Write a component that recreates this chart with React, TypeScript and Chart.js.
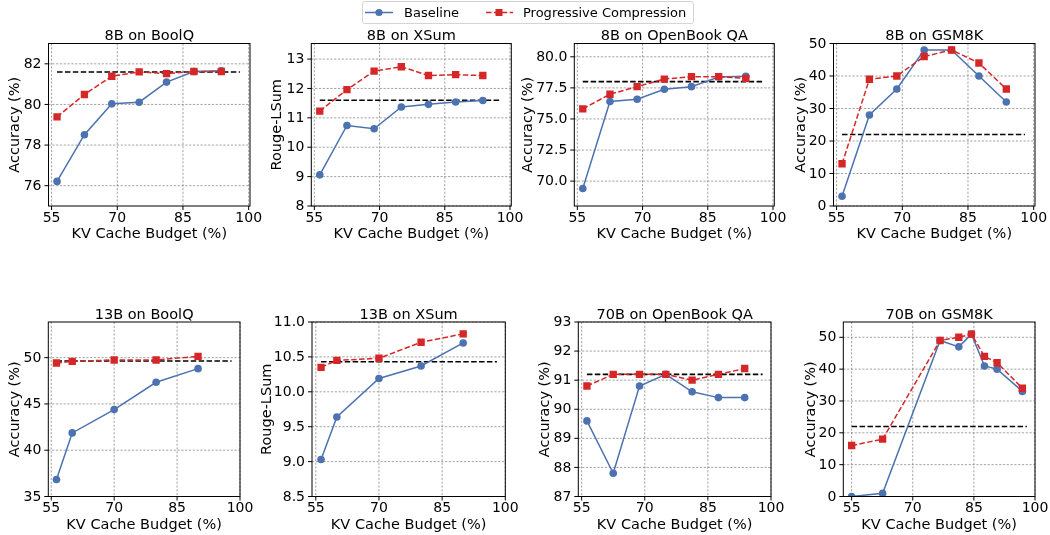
import React, { useEffect, useRef } from "react";
import { Chart, registerables } from "chart.js";

Chart.register(...registerables);

// ---------------- data ----------------
const budgets8B = [56.25, 62.5, 68.75, 75, 81.25, 87.5, 93.75];
const budgets13B = [56.25, 60, 70, 80, 90];
const budgets70BObqa = [56.25, 62.5, 68.75, 75, 81.25, 87.5, 93.75];
const budgets70BGsm = [55, 62.6, 76.7, 81.3, 84.4, 87.6, 90.7, 96.9];

const xTickValues = [55, 70, 85, 100];
const fullCacheLineEnd = 98;

const boolq8Baseline = [76.21, 78.51, 80.03, 80.11, 81.1, 81.62, 81.66];
const boolq8Progressive = [79.39, 80.49, 81.39, 81.6, 81.52, 81.62, 81.62];
const boolq8Full = 81.6;
const boolq8YTicks = [76, 78, 80, 82];

const xsum8Baseline = [9.06, 10.74, 10.63, 11.37, 11.46, 11.54, 11.59];
const xsum8Progressive = [11.23, 11.96, 12.59, 12.74, 12.44, 12.47, 12.44];
const xsum8Full = 11.6;
const xsum8YTicks = [8, 9, 10, 11, 12, 13];

const obqa8Baseline = [69.41, 76.4, 76.59, 77.39, 77.6, 78.37, 78.43];
const obqa8Progressive = [75.81, 76.99, 77.6, 78.21, 78.4, 78.4, 78.27];
const obqa8Full = 78.0;
const obqa8YTicks = [70, 72.5, 75, 77.5, 80];

const gsm8Baseline = [3, 28, 36, 48, 48, 40, 32];
const gsm8Progressive = [13, 39, 40, 46, 48, 44, 36];
const gsm8Full = 22;
const gsm8YTicks = [0, 10, 20, 30, 40, 50];

const boolq13Baseline = [36.83, 41.87, 44.39, 47.34, 48.81];
const boolq13Progressive = [49.42, 49.6, 49.75, 49.75, 50.14];
const boolq13Full = 49.64;
const boolq13YTicks = [35, 40, 45, 50];

const xsum13Baseline = [9.03, 9.64, 10.19, 10.37, 10.7];
const xsum13Progressive = [10.35, 10.45, 10.48, 10.71, 10.83];
const xsum13Full = 10.43;
const xsum13YTicks = [8.5, 9.0, 9.5, 10.0, 10.5, 11.0];

const obqa70Baseline = [89.6, 87.8, 90.8, 91.2, 90.6, 90.4, 90.4];
const obqa70Progressive = [90.8, 91.2, 91.2, 91.2, 91.0, 91.2, 91.4];
const obqa70Full = 91.2;
const obqa70YTicks = [87, 88, 89, 90, 91, 92, 93];

const gsm70Baseline = [0, 1, 49, 47, 51, 41, 40, 33];
const gsm70Progressive = [16, 18, 49, 50, 51, 44, 42, 34];
const gsm70Full = 22;
const gsm70YTicks = [0, 10, 20, 30, 40, 50];

// ---------------- style / layout ----------------
const W = 1050;
const H = 535;
const BLUE = "#4c72b0";
const RED = "#d62728";
const FONT = '"DejaVu Sans", "Liberation Sans", sans-serif';
const TICK_FONT = 14;
const LABEL_FONT = 14.5;

type Panel = {
  title: string;
  yLabel: string;
  xs: number[];
  base: number[];
  prog: number[];
  full: number;
  yTicks: number[];
  yDecimals: number;
  yMin: number;
  yMax: number;
  xMin: number;
  xMax: number;
  box: { left: number; right: number; top: number; bottom: number };
  yLabelX: number;
};

const ROW1 = { top: 43.5, bottom: 206 };
const ROW2 = { top: 322, bottom: 496.5 };

const panels: Panel[] = [
  {
    title: "8B on BoolQ", yLabel: "Accuracy (%)", xs: budgets8B, base: boolq8Baseline, prog: boolq8Progressive,
    full: boolq8Full, yTicks: boolq8YTicks, yDecimals: 0, yMin: 75, yMax: 83, xMin: 54.3, xMax: 100.3,
    box: { left: 48.5, right: 250, ...ROW1 }, yLabelX: 15.3,
  },
  {
    title: "8B on XSum", yLabel: "Rouge-LSum", xs: budgets8B, base: xsum8Baseline, prog: xsum8Progressive,
    full: xsum8Full, yTicks: xsum8YTicks, yDecimals: 0, yMin: 8, yMax: 13.53, xMin: 54.3, xMax: 100.3,
    box: { left: 311.3, right: 511.3, ...ROW1 }, yLabelX: 277.5,
  },
  {
    title: "8B on OpenBook QA", yLabel: "Accuracy (%)", xs: budgets8B, base: obqa8Baseline, prog: obqa8Progressive,
    full: obqa8Full, yTicks: obqa8YTicks, yDecimals: 1, yMin: 68, yMax: 81.07, xMin: 54.3, xMax: 100.3,
    box: { left: 574.3, right: 774.3, ...ROW1 }, yLabelX: 528,
  },
  {
    title: "8B on GSM8K", yLabel: "Accuracy (%)", xs: budgets8B, base: gsm8Baseline, prog: gsm8Progressive,
    full: gsm8Full, yTicks: gsm8YTicks, yDecimals: 0, yMin: 0, yMax: 50, xMin: 54.3, xMax: 100.3,
    box: { left: 833.5, right: 1035, ...ROW1 }, yLabelX: 801,
  },
  {
    title: "13B on BoolQ", yLabel: "Accuracy (%)", xs: budgets13B, base: boolq13Baseline, prog: boolq13Progressive,
    full: boolq13Full, yTicks: boolq13YTicks, yDecimals: 0, yMin: 35, yMax: 53.85, xMin: 54.3, xMax: 100,
    box: { left: 48.3, right: 240, ...ROW2 }, yLabelX: 15.3,
  },
  {
    title: "13B on XSum", yLabel: "Rouge-LSum", xs: budgets13B, base: xsum13Baseline, prog: xsum13Progressive,
    full: xsum13Full, yTicks: xsum13YTicks, yDecimals: 1, yMin: 8.5, yMax: 11.0, xMin: 54.1, xMax: 100,
    box: { left: 312, right: 505.3, ...ROW2 }, yLabelX: 267.5,
  },
  {
    title: "70B on OpenBook QA", yLabel: "Accuracy (%)", xs: budgets70BObqa, base: obqa70Baseline, prog: obqa70Progressive,
    full: obqa70Full, yTicks: obqa70YTicks, yDecimals: 0, yMin: 87, yMax: 93, xMin: 54.2, xMax: 100,
    box: { left: 578.3, right: 771, ...ROW2 }, yLabelX: 545.7,
  },
  {
    title: "70B on GSM8K", yLabel: "Accuracy (%)", xs: budgets70BGsm, base: gsm70Baseline, prog: gsm70Progressive,
    full: gsm70Full, yTicks: gsm70YTicks, yDecimals: 0, yMin: 0, yMax: 54.8, xMin: 52.95, xMax: 100,
    box: { left: 843.3, right: 1035, ...ROW2 }, yLabelX: 811,
  },
];

function makeDecorPlugin(p: Panel) {
  return {
    id: "decor",
    beforeDatasetsDraw(chart: any) {
      const { ctx, chartArea, scales } = chart;
      const xs = scales.x;
      const ys = scales.y;
      ctx.save();
      ctx.strokeStyle = "rgba(100,100,100,0.75)";
      ctx.lineWidth = 0.8;
      ctx.setLineDash([2.2, 1.6]);
      for (const v of xTickValues) {
        const px = xs.getPixelForValue(v);
        if (px < chartArea.left - 0.5 || px > chartArea.right + 0.5) continue;
        ctx.beginPath();
        ctx.moveTo(px, chartArea.top);
        ctx.lineTo(px, chartArea.bottom);
        ctx.stroke();
      }
      for (const v of p.yTicks) {
        const py = ys.getPixelForValue(v);
        ctx.beginPath();
        ctx.moveTo(chartArea.left, py);
        ctx.lineTo(chartArea.right, py);
        ctx.stroke();
      }
      ctx.restore();
    },
    afterDatasetsDraw(chart: any) {
      const { ctx, chartArea, scales } = chart;
      const xs = scales.x;
      const ys = scales.y;
      const { left, right, top, bottom } = chartArea;
      ctx.save();
      ctx.setLineDash([]);
      // frame
      ctx.strokeStyle = "#000";
      ctx.lineWidth = 1;
      ctx.strokeRect(left, top, right - left, bottom - top);
      // tick marks and labels
      ctx.fillStyle = "#000";
      ctx.font = `${TICK_FONT}px ${FONT}`;
      ctx.textAlign = "center";
      ctx.textBaseline = "alphabetic";
      for (const v of xTickValues) {
        const px = xs.getPixelForValue(v);
        ctx.beginPath();
        ctx.moveTo(px, bottom);
        ctx.lineTo(px, bottom + 4);
        ctx.stroke();
        ctx.fillText(String(v), px, bottom + 15.7);
      }
      ctx.textAlign = "right";
      ctx.textBaseline = "middle";
      for (const v of p.yTicks) {
        const py = ys.getPixelForValue(v);
        ctx.beginPath();
        ctx.moveTo(left, py);
        ctx.lineTo(left - 4, py);
        ctx.stroke();
        ctx.fillText(v.toFixed(p.yDecimals), left - 7, py + 0.5);
      }
      // titles and axis labels
      const cx = (left + right) / 2;
      ctx.font = `${LABEL_FONT}px ${FONT}`;
      ctx.textAlign = "center";
      ctx.textBaseline = "alphabetic";
      ctx.fillText(p.title, cx, top - 3.5);
      ctx.fillText("KV Cache Budget (%)", cx, bottom + 32);
      ctx.translate(p.yLabelX, (top + bottom) / 2);
      ctx.rotate(-Math.PI / 2);
      ctx.textBaseline = "middle";
      ctx.fillText(p.yLabel, 0, 0);
      ctx.restore();
    },
  };
}

function PanelChart({ p }: { p: Panel }) {
  const ref = useRef<HTMLCanvasElement | null>(null);
  useEffect(() => {
    if (!ref.current) return;
    const toPts = (ys: number[]) => p.xs.map((x, i) => ({ x, y: ys[i] }));
    const chart = new Chart(ref.current, {
      type: "line",
      data: {
        datasets: [
          {
            label: "Progressive Compression",
            data: toPts(p.prog),
            borderColor: RED,
            backgroundColor: RED,
            borderWidth: 1.5,
            borderDash: [5.5, 2.4],
            pointStyle: "rect",
            pointRadius: 5.2,
            pointBorderWidth: 0,
            pointBackgroundColor: RED,
            tension: 0,
          },
          {
            label: "Baseline",
            data: toPts(p.base),
            borderColor: BLUE,
            backgroundColor: BLUE,
            borderWidth: 1.5,
            pointStyle: "circle",
            pointRadius: 3.8,
            pointBorderWidth: 0,
            pointBackgroundColor: BLUE,
            tension: 0,
          },
          {
            label: "Full Cache",
            data: [
              { x: p.xs[0], y: p.full },
              { x: fullCacheLineEnd, y: p.full },
            ],
            borderColor: "#000",
            borderWidth: 1.6,
            borderDash: [5.5, 2.4],
            pointRadius: 0,
            tension: 0,
          },
        ],
      } as any,
      options: {
        responsive: false,
        animation: false,
        events: [],
        layout: {
          padding: {
            left: p.box.left,
            top: p.box.top,
            right: W - p.box.right,
            bottom: H - p.box.bottom,
          },
        },
        scales: {
          x: { type: "linear", display: false, min: p.xMin, max: p.xMax },
          y: { type: "linear", display: false, min: p.yMin, max: p.yMax },
        },
        plugins: {
          legend: { display: false },
          tooltip: { enabled: false },
          title: { display: false },
        },
      } as any,
      plugins: [makeDecorPlugin(p)],
    });
    return () => chart.destroy();
  }, [p]);
  return (
    <canvas
      ref={ref}
      width={W}
      height={H}
      style={{ position: "absolute", left: 0, top: 0, width: W, height: H }}
    />
  );
}

function Legend() {
  return (
    <div
      style={{
        position: "absolute",
        left: 362,
        top: 1,
        width: 332,
        height: 23,
        boxSizing: "border-box",
        border: "1px solid #d4d4d4",
        borderRadius: 3,
        background: "rgba(255,255,255,0.85)",
        fontFamily: FONT,
        fontSize: 13,
        color: "#000",
        zIndex: 10,
      }}
    >
      <svg width={332} height={23} style={{ position: "absolute", left: -1, top: -1 }}>
        <line x1={3} y1={11.5} x2={31} y2={11.5} stroke={BLUE} strokeWidth={1.5} />
        <circle cx={17} cy={11.5} r={3.6} fill={BLUE} />
        <line x1={124} y1={11.5} x2={151} y2={11.5} stroke={RED} strokeWidth={1.5} strokeDasharray="5.5 2.4" />
        <rect x={133.5} y={8} width={7} height={7} fill={RED} />
      </svg>
      <span style={{ position: "absolute", left: 41, top: 2, lineHeight: "18px" }}>Baseline</span>
      <span style={{ position: "absolute", left: 160, top: 2, lineHeight: "18px" }}>Progressive Compression</span>
    </div>
  );
}

export default function App() {
  return (
    <div style={{ position: "absolute", left: 0, top: 0, width: W, height: H, background: "#fff" }}>
      {panels.map((p, i) => (
        <PanelChart key={i} p={p} />
      ))}
      <Legend />
    </div>
  );
}
